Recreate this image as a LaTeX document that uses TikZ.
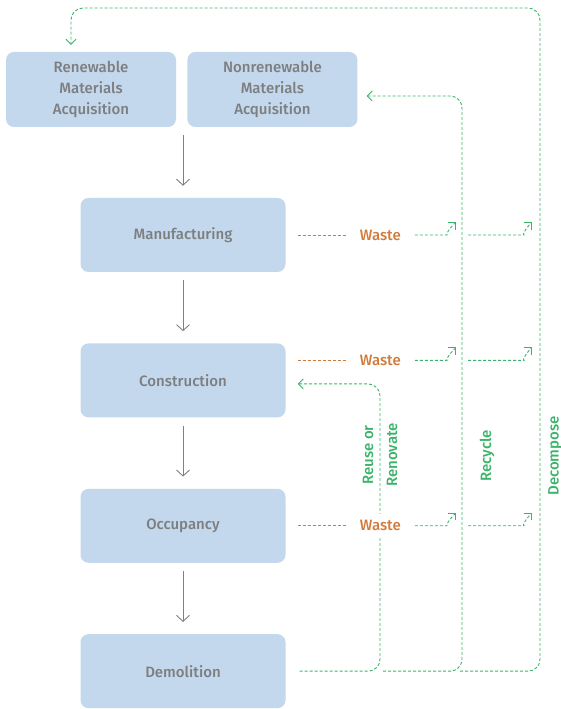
\documentclass[tikz,border=0pt]{standalone}
\usepackage{fontspec}
\setmainfont{Fira Sans}[UprightFont={* Medium}]
\usetikzlibrary{positioning,arrows.meta}
\definecolor{boxblue}{HTML}{C3D8EC}
\definecolor{boxtext}{HTML}{7D7E80}
\definecolor{wasteorange}{HTML}{D27A3A}
\definecolor{loopgreen}{HTML}{3BB46A}
\definecolor{flowgray}{HTML}{808080}
\newcommand{\stagefont}{\fontsize{15}{21}\selectfont}

\begin{document}
\begin{tikzpicture}[x=1pt,y=1pt]
  \tikzset{
    stage/.style={fill=boxblue, rounded corners=8pt, minimum width=205pt, minimum height=74pt,
      align=center, text=boxtext, font=\stagefont},
    source/.style={stage, minimum width=170pt, minimum height=75pt},
    flow/.style={draw=flowgray, line width=0.9pt, -{Straight Barb[length=6pt,width=13pt]},
      shorten <=8pt, shorten >=12pt},
    waste/.style={text=wasteorange, font=\stagefont, fill=white, inner xsep=0pt, inner ysep=7pt},
    scrap/.style={draw=wasteorange, line width=0.9pt, dash pattern=on 3pt off 2pt},
    loopline/.style={draw=loopgreen, line width=0.9pt, dash pattern=on 3pt off 2pt, rounded corners=12pt},
    looptip/.style={-{Straight Barb[length=5pt,width=10pt]}},
    looplabel/.style={text=loopgreen, font=\stagefont, rotate=90, align=center}
  }
  \useasboundingbox (0,0) rectangle (560,709);
  % life cycle stages
  \node[source] (renew) at (91,619.5) {Renewable\\Materials\\Acquisition};
  \node[source, right=11pt of renew] (nonrenew) {Nonrenewable\\Materials\\Acquisition};
  \node[stage] (manuf) at (183,474) {Manufacturing};
  \node[stage, below=71pt of manuf] (constr) {Construction};
  \node[stage, below=71pt of constr] (occup) {Occupancy};
  \node[stage, below=71pt of occup] (demol) {Demolition};

  \draw[flow] (manuf.north |- renew.south) -- (manuf.north);
  \draw[flow] (manuf) -- (constr);
  \draw[flow] (constr) -- (occup);
  \draw[flow] (occup) -- (demol);

  % end of life loops
  \coordinate (reuse) at (380,0);
  \coordinate (recyc) at (462,0);
  \coordinate (decomp) at (540,701);
  \draw[loopline, looptip] ([xshift=14pt]demol.east) -| ([yshift=-3.5pt]reuse |- constr.east)
    -- ([xshift=12pt,yshift=-3.5pt]constr.east);
  \draw[loopline, looptip] ([xshift=3pt]reuse |- demol.east) -| ([yshift=-6.5pt]recyc |- nonrenew.east)
    -- ([xshift=9pt,yshift=-6.5pt]nonrenew.east);
  \draw[loopline, looptip] ([xshift=-2pt]recyc |- demol.east) -| (decomp)
    -| ([xshift=-20pt,yshift=7pt]renew.north);

  \node[looplabel] (reuselbl) at (380,254) {Reuse or\\[3pt]Renovate};
  \node[looplabel] (recyclbl) at (487,253) {Recycle};
  \node[looplabel] (decomplbl) at (555,253) {Decompose};

  % waste from each stage
  \foreach \row/\w/\dy in {manuf/w1/0, constr/w2/20, occup/w3/0} {
    \node[waste, right=74pt of \row, yshift=\dy pt] (\w) {Waste};
    \draw[scrap] ([xshift=12pt]\row.east |- \w.west) -- ([xshift=-13pt]\w.west);
    \draw[loopline, looptip] ([xshift=14pt]\w.east) -- ++(20,0)
      .. controls +(10,0) and +(-6,-6) .. ++(21,13);
    \draw[loopline, looptip] ([xshift=6pt]recyc |- \w.east) -- ++(44,0)
      .. controls +(10,0) and +(-6,-6) .. ++(20,13);
  }
\end{tikzpicture}
\end{document}
